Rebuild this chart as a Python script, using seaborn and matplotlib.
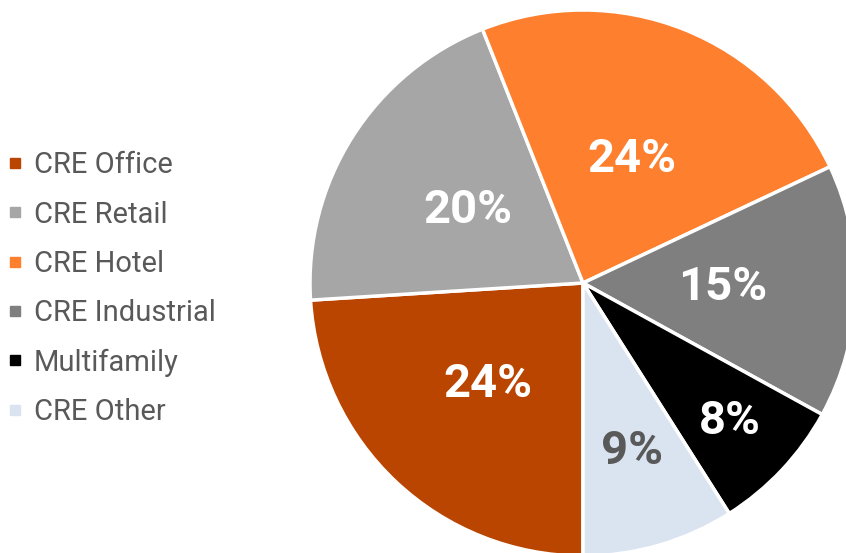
import matplotlib
matplotlib.use("Agg")
import matplotlib.pyplot as plt
import seaborn as sns
import numpy as np
from matplotlib.lines import Line2D

categories = ["CRE Office", "CRE Retail", "CRE Hotel", "CRE Industrial", "Multifamily", "CRE Other"]
values = [24, 20, 24, 15, 8, 9]
colors = ["#BA4500", "#A6A6A6", "#FE7F2D", "#7F7F7F", "#000000", "#DAE3F0"]
label_colors = ["white", "white", "white", "white", "white", "#595959"]
label_dist = [0.51, 0.50, 0.49, 0.51, 0.74, 0.64]

sns.set_theme(style="white")
plt.rcParams['font.family'] = ['Roboto', 'DejaVu Sans']

fig = plt.figure(figsize=(8.46, 5.53), dpi=100)
cx, cy, r = 583, 553 - 283, 273
ax = fig.add_axes([(cx - r) / 846, (cy - r) / 553, 2 * r / 846, 2 * r / 553])

wedges, texts, autotexts = ax.pie(
    values, colors=colors, startangle=-90, counterclock=False, radius=1,
    autopct=lambda p: f"{p:.0f}%", pctdistance=0.5,
    wedgeprops=dict(edgecolor="white", linewidth=2.5),
    textprops=dict(fontsize=34, fontweight="bold"))
ax.set_xlim(-1, 1)
ax.set_ylim(-1, 1)
ax.axis("off")
for w, t, c, d in zip(wedges, autotexts, label_colors, label_dist):
    ang = np.deg2rad((w.theta1 + w.theta2) / 2)
    t.set_position((d * np.cos(ang), d * np.sin(ang)))
    t.set_color(c)

handles = [Line2D([0], [0], marker="s", linestyle="none", markersize=7.5,
                  markerfacecolor=c, markeredgecolor=c) for c in colors]
fig.legend(handles, categories, loc="center left", bbox_to_anchor=(0.0, 0.478),
           frameon=False, fontsize=21, labelcolor="#595959", handlelength=0.45,
           handletextpad=0.4, labelspacing=0.73, borderaxespad=0.0, borderpad=0.3)

fig.savefig("out.png", dpi=100)
